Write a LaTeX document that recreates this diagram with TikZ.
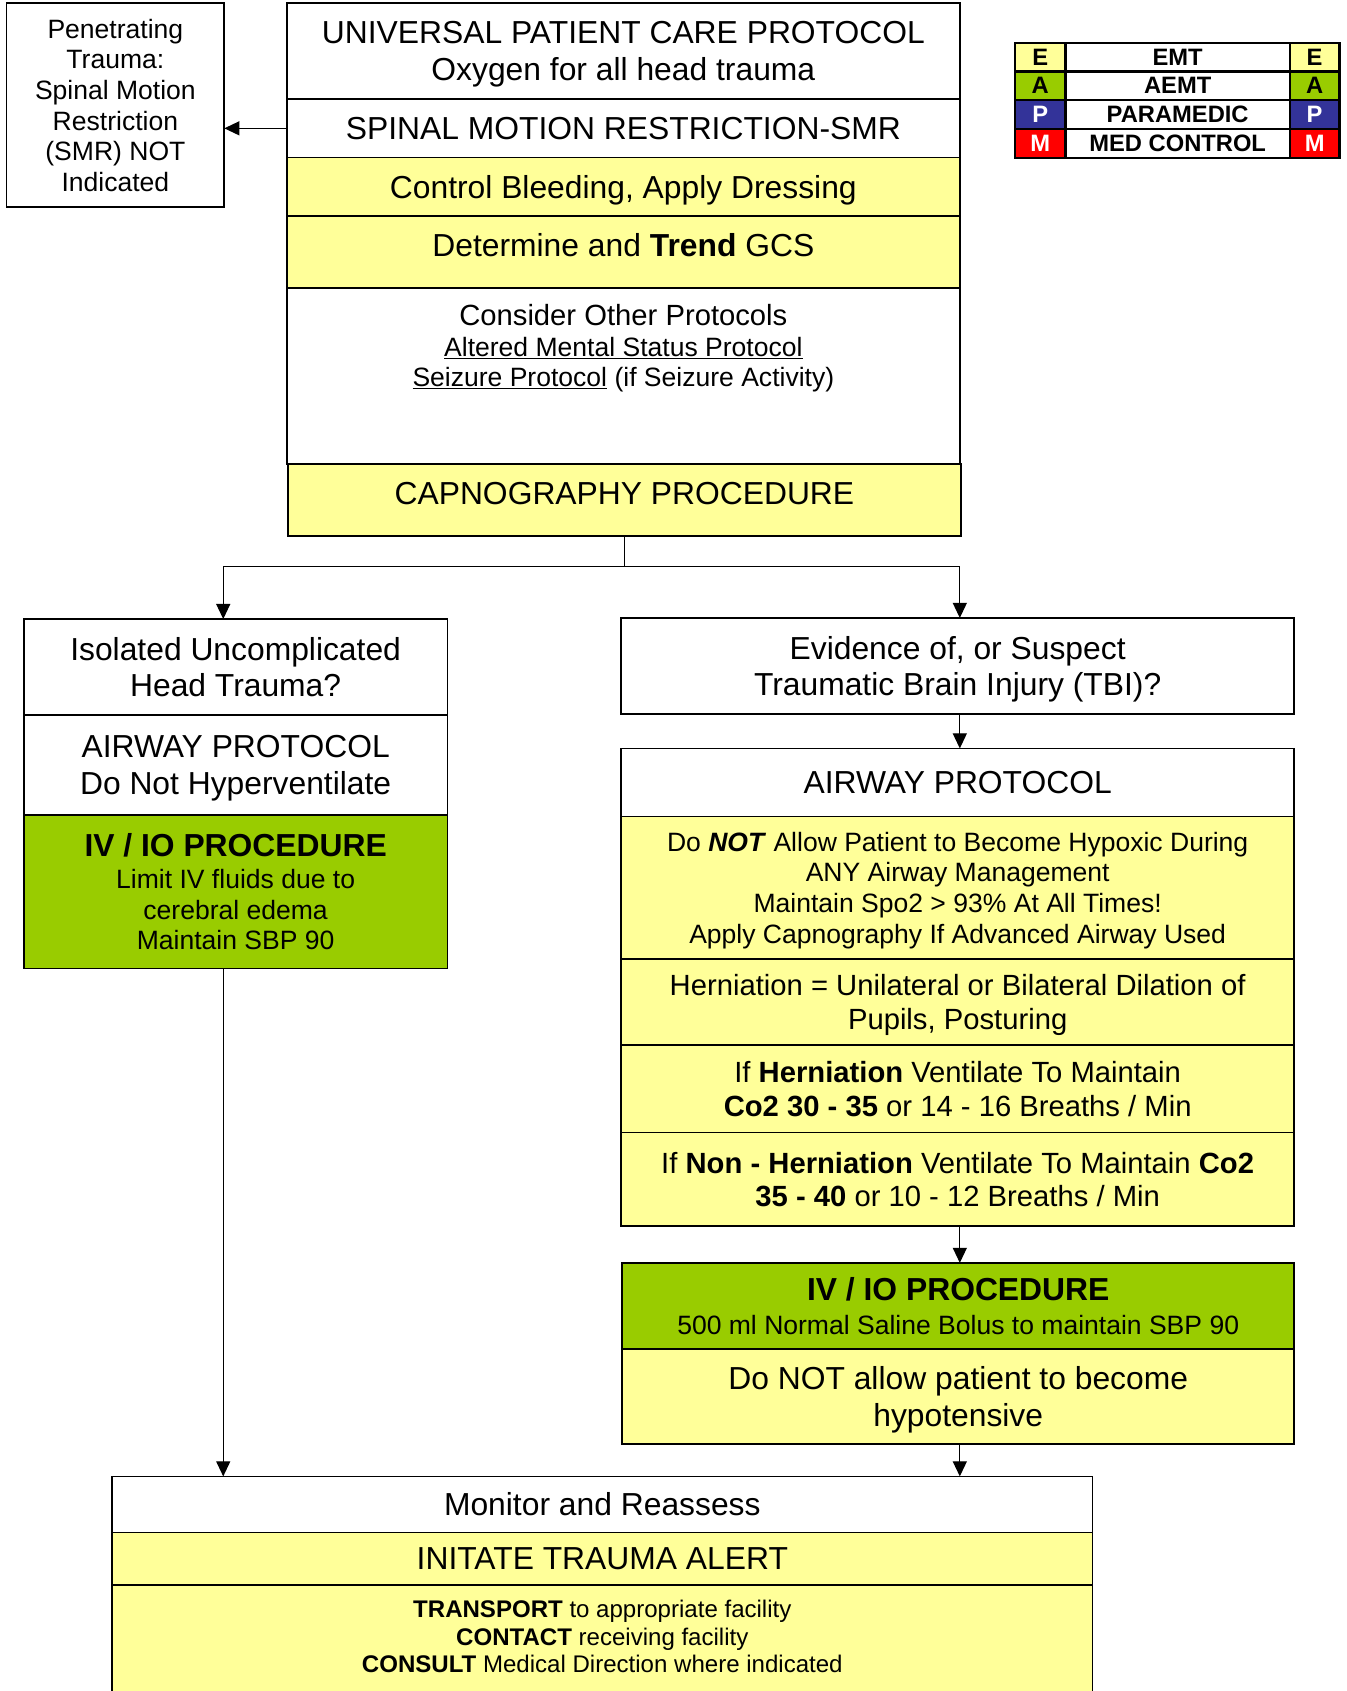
\documentclass[tikz,border=0pt]{standalone}
\usepackage{fontspec}
\setmainfont{Liberation Sans}
\usetikzlibrary{arrows.meta}
\definecolor{ylw}{HTML}{FFFF99}
\definecolor{grn}{HTML}{99CC00}
\definecolor{blu}{HTML}{333399}
\definecolor{rd}{HTML}{FF0000}
\begin{document}
\begin{tikzpicture}[x=1pt,y=-1pt,
  every node/.style={inner sep=0pt,outer sep=0pt,align=center,text depth=0pt},
  bx/.style 2 args={draw,line width=1.6pt,minimum width=#1pt,minimum height=#2pt},
  fA/.style={font=\fontsize{29.5}{34}\selectfont},
  fB/.style={font=\fontsize{27.1}{31.2}\selectfont},
  fC/.style={font=\fontsize{24.6}{28.4}\selectfont},
  fD/.style={font=\fontsize{22.3}{25.6}\selectfont},
  cell/.style={draw,line width=2pt,minimum height=26.65pt,font=\fontsize{22}{25}\selectfont\bfseries},
  conn/.style={line width=1.2pt},
  arr/.style={line width=1.2pt,-{Triangle[length=14pt,width=13pt]}}]
\useasboundingbox (0,0) rectangle (1249,1568);

% top column
\node[bx={202}{189},fC] (pen) at (107,97.5) {Penetrating\\Trauma:\\Spinal Motion\\Restriction\\(SMR) NOT\\Indicated};
\node[bx={624}{89},fA] (uni) at (578,47.5) {UNIVERSAL PATIENT CARE PROTOCOL\\Oxygen for all head trauma};
\node[bx={624}{54},fA] (smr) at (578,119) {SPINAL MOTION RESTRICTION-SMR};
\node[bx={624}{54},fill=ylw,fA] (bleed) at (578,173) {Control Bleeding, Apply Dressing};
\node[bx={624}{67},fill=ylw] (gcs) at (578,233.5) {};
\node[fA,anchor=base] (gcst) at (578,238.3) {Determine and \textbf{Trend} GCS};
\node[bx={624}{163}] (cons) at (578,348.5) {};
\node[fB,anchor=base] (cons1) at (578,301.5) {Consider Other Protocols};
\node[fC,anchor=base] (cons2) at (578,330.5) {\underline{Altered Mental Status Protocol}};
\node[fC,anchor=base] (cons3) at (578,358.5) {\underline{Seizure Protocol} (if Seizure Activity)};
\node[bx={624}{67},fill=ylw] (capno) at (579,463.5) {};
\node[fA,anchor=base] (capnot) at (579,467.5) {CAPNOGRAPHY PROCEDURE};

% legend
\foreach \lt/\nm/\cl/\tc [count=\i] in {E/EMT/ylw/black,A/AEMT/grn/black,P/PARAMEDIC/blu/white,M/MED CONTROL/rd/white}{
  \pgfmathsetmacro\yy{39.6+26.65*(\i-0.5)}
  \node[cell,minimum width=47pt,fill=\cl,text=\tc] (legl\i) at (964.5,\yy) {\lt};
  \node[cell,minimum width=208pt,fill=white] (legm\i) at (1092,\yy) {\nm};
  \node[cell,minimum width=46pt,fill=\cl,text=\tc] (legr\i) at (1219,\yy) {\lt};
}

% left column
\node[bx={393}{89},fA] (iso) at (218.5,618.5) {Isolated Uncomplicated\\Head Trauma?};
\node[bx={393}{93},fA] (awl) at (218.5,709.5) {AIRWAY PROTOCOL\\Do Not Hyperventilate};
\node[bx={393}{142},fill=grn,fC] (ivl) at (218.5,827) {{\fontsize{29.5}{34}\selectfont\bfseries IV / IO PROCEDURE}\\[1pt]Limit IV fluids due to\\cerebral edema\\Maintain SBP 90};

% right column
\node[bx={624}{89},fA] (evid) at (888,617.5) {Evidence of, or Suspect\\Traumatic Brain Injury (TBI)?};
\node[bx={624}{63},fA] (awr) at (888,725.5) {AIRWAY PROTOCOL};
\node[bx={624}{132},fill=ylw,fC] (hyp) at (888,823) {Do \textbf{\textit{NOT}} Allow Patient to Become Hypoxic During\\ANY Airway Management\\Maintain Spo2 > 93\% At All Times!\\Apply Capnography If Advanced Airway Used};
\node[bx={624}{80},fill=ylw,fB] (hern) at (888,929) {Herniation = Unilateral or Bilateral Dilation of\\Pupils, Posturing};
\node[bx={624}{81},fill=ylw,fB] (ifh) at (888,1009.5) {If \textbf{Herniation} Ventilate To Maintain\\\textbf{Co2 30 - 35} or 14 - 16 Breaths / Min};
\node[bx={624}{87},fill=ylw,fB] (nonh) at (888,1093.5) {If \textbf{Non - Herniation} Ventilate To Maintain \textbf{Co2}\\\textbf{35 - 40} or 10 - 12 Breaths / Min};
\node[bx={623}{80},fill=grn,fC] (ivr) at (888.5,1211) {{\fontsize{29.5}{34}\selectfont\bfseries IV / IO PROCEDURE}\\[3pt]500 ml Normal Saline Bolus to maintain SBP 90};
\node[bx={623}{88},fill=ylw,fA] (hypo) at (888.5,1295) {Do NOT allow patient to become\\hypotensive};

% bottom
\node[bx={909}{52},fA] (mon) at (558.5,1395) {Monitor and Reassess};
\node[bx={909}{49},fill=ylw,fA] (alert) at (558.5,1445.5) {INITATE TRAUMA ALERT};
\node[bx={909}{110},fill=ylw] (trans) at (558.5,1525) {};
\node[fD] (transt) at (558.5,1517.6) {\textbf{TRANSPORT} to appropriate facility\\\textbf{CONTACT} receiving facility\\\textbf{CONSULT} Medical Direction where indicated};

% connectors
\coordinate (lx) at (207,525);
\coordinate (rx) at (890,525);
\draw[arr] (smr.west) -- (pen.east |- smr.west);
\draw[conn] (capno.south) -- (capno.south |- lx);
\draw[conn] (lx) -- (rx);
\draw[arr] (lx) -- (iso.north -| lx);
\draw[arr] (rx) -- (evid.north -| rx);
\draw[arr] (evid.south -| rx) -- (awr.north -| rx);
\draw[arr] (nonh.south -| rx) -- (ivr.north -| rx);
\draw[arr] (hypo.south -| rx) -- (mon.north -| rx);
\draw[arr] (ivl.south -| lx) -- (mon.north -| lx);
\end{tikzpicture}
\end{document}
